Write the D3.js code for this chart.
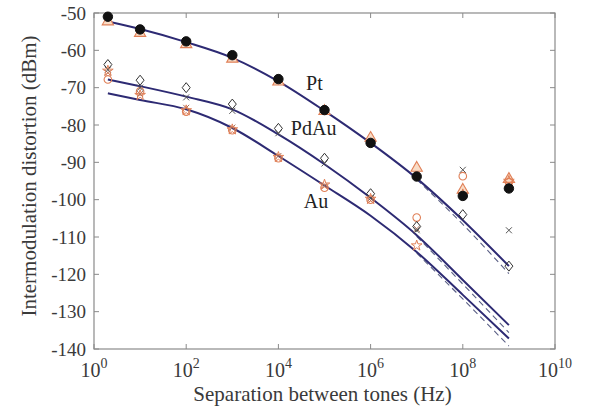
<!DOCTYPE html>
<html><head><meta charset="utf-8">
<script src="https://cdn.jsdelivr.net/npm/d3@7"></script>
<style>body{margin:0;background:#fff}svg{display:block}
text{font-family:"Liberation Serif","Times New Roman",Times,Tinos,"DejaVu Serif","Noto Serif",serif}</style>
</head><body><svg id="c" width="592" height="411"></svg>
<script>
// ---- data ----
const xs = [2, 10, 100, 1e3, 1e4, 1e5, 1e6, 1e7, 1e8, 1e9];
const ptFilled   = [-51.0, -54.4, -57.6, -61.3, -67.7, -76.0, -84.8, -93.8, -99.0, -97.0];
const ptTriangle = [-52.3, -55.4, -58.4, -62.3, -68.4, -76.3, -83.5, -91.5, -97.4, -94.5];
const diamond    = [-63.8, -68.0, -70.0, -74.4, -80.9, -88.9, -98.4, -107.2, -104.0, -117.8];
const cross      = [-65.2, -70.0, -72.6, -76.2, -82.2, -90.3, -99.6, -108.2, -92.0, -108.2];
const cross2     = [-66.0, -71.7, -75.4, -80.7, -88.3, -96.3, -100.2, -107.8, null, null];
const orangeCircle = [-67.8, -71.0, -76.4, -81.4, -88.9, -96.8, -100.0, -104.8, -93.7, -95.3];
const orangeStar   = [-65.5, -72.0, -76.1, -81.2, -88.6, -96.0, -99.8, -112.3, -98.6, -95.0];

const ptFit   = [-52.3, -54.3, -57.8, -62.0, -68.3, -76.2, -84.8, -94.3, -105.5, -117.8];
const pdauFit = [-67.8, -69.6, -72.4, -75.8, -82.5, -90.5, -99.5, -109.5, -121.5, -133.6];
const auFit   = [-71.5, -73.3, -75.8, -80.8, -88.3, -96.2, -104.3, -114.0, -125.5, -137.2];
const dashX   = [1e7, 1e8, 1e9];
const ptDash   = [-94.6, -106.6, -119.8];
const pdauDash = [-109.8, -122.6, -135.6];
const auDash   = [-114.3, -126.6, -139.2];

const xTicks = [0, 2, 4, 6, 8, 10];
const yTicks = [-50, -60, -70, -80, -90, -100, -110, -120, -130, -140];
const labels = [
  {text: "Pt",   x: 10**4.6,  y: -70.6},
  {text: "PdAu", x: 10**4.27, y: -82.7},
  {text: "Au",   x: 10**4.55, y: -102.1}
];

// ---- layout ----
const L = 94, R = 555, T = 13, B = 349;
const svg = d3.select("#c");
const x = d3.scaleLog().domain([1, 1e10]).range([L, R]);
const y = d3.scaleLinear().domain([-140, -50]).range([B, T]);
const axisCol = "#8a8a8a", textCol = "#3a3a3a";

// frame
svg.append("rect").attr("x", L).attr("y", T).attr("width", R - L).attr("height", B - T)
  .attr("fill", "none").attr("stroke", axisCol).attr("stroke-width", 1.2);

// ticks
const tl = 5;
xTicks.forEach(e => {
  const px = x(10 ** e);
  svg.append("line").attr("x1", px).attr("x2", px).attr("y1", B).attr("y2", B - tl).attr("stroke", axisCol);
  svg.append("line").attr("x1", px).attr("x2", px).attr("y1", T).attr("y2", T + tl).attr("stroke", axisCol);
  const t = svg.append("text").attr("x", px).attr("y", 377).attr("text-anchor", "middle")
    .attr("font-size", 20).attr("fill", textCol);
  t.append("tspan").text("10");
  t.append("tspan").attr("dy", -9).attr("font-size", 14).text(e);
});
yTicks.forEach(v => {
  const py = y(v);
  svg.append("line").attr("x1", L).attr("x2", L + tl).attr("y1", py).attr("y2", py).attr("stroke", axisCol);
  svg.append("line").attr("x1", R).attr("x2", R - tl).attr("y1", py).attr("y2", py).attr("stroke", axisCol);
  svg.append("text").attr("x", 86).attr("y", py + 6.5).attr("text-anchor", "end")
    .attr("font-size", 19).attr("fill", textCol).text(v);
});

// axis titles
svg.append("text").attr("x", (L + R) / 2 - 2).attr("y", 401).attr("text-anchor", "middle")
  .attr("font-size", 21).attr("fill", textCol)
  .text("Separation between tones (Hz)");
svg.append("text").attr("transform", `translate(36,${(T + B) / 2 - 5}) rotate(-90)`)
  .attr("text-anchor", "middle").attr("font-size", 21).attr("fill", textCol)
  .text("Intermodulation distortion (dBm)");

// fit lines
const line = d3.line().x(d => x(d[0])).y(d => y(d[1])).curve(d3.curveMonotoneX);
const lineCol = "#2d2a73";
[ptDash, pdauDash, auDash].forEach(arr => {
  svg.append("path").attr("d", line(dashX.map((v, i) => [v, arr[i]])))
    .attr("fill", "none").attr("stroke", "#5a5f85").attr("stroke-width", 1.1).attr("stroke-dasharray", "6,4");
});
[ptFit, pdauFit, auFit].forEach(arr => {
  svg.append("path").attr("d", line(xs.map((v, i) => [v, arr[i]])))
    .attr("fill", "none").attr("stroke", lineCol).attr("stroke-width", 2);
});

// markers
const orange = "#e08058";
function marks(arr, type, size, fill, stroke, sw) {
  const sym = d3.symbol().type(type).size(size);
  xs.forEach((v, i) => {
    if (arr[i] == null) return;
    svg.append("path").attr("d", sym())
      .attr("transform", `translate(${x(v)},${y(arr[i])})`)
      .attr("fill", fill).attr("stroke", stroke).attr("stroke-width", sw);
  });
}
const diamondType = {draw(ctx, s) { const r = Math.sqrt(s) / 2; ctx.moveTo(0, -r * 1.25); ctx.lineTo(r, 0); ctx.lineTo(0, r * 1.25); ctx.lineTo(-r, 0); ctx.closePath(); }};
const xType = {draw(ctx, s) { const r = Math.sqrt(s) / 2; ctx.moveTo(-r, -r); ctx.lineTo(r, r); ctx.moveTo(r, -r); ctx.lineTo(-r, r); }};

marks(ptTriangle, d3.symbolTriangle, 55, "#f9dcc6", orange, 1.1);
marks(orangeCircle, d3.symbolCircle, 45, "none", orange, 1.1);
marks(cross2, xType, 36, "none", "#a8705a", 1);
marks(diamond, diamondType, 64, "none", "#333", 1);
marks(cross, xType, 36, "none", "#555", 1);
marks(orangeStar, d3.symbolStar, 35, "none", orange, 1);
marks(ptFilled, d3.symbolCircle, 70, "#111", "#111", 1);

// curve labels
labels.forEach(l => {
  svg.append("text").attr("x", x(l.x)).attr("y", y(l.y))
    .attr("font-size", 20).attr("fill", "#222").text(l.text);
});
</script></body></html>
